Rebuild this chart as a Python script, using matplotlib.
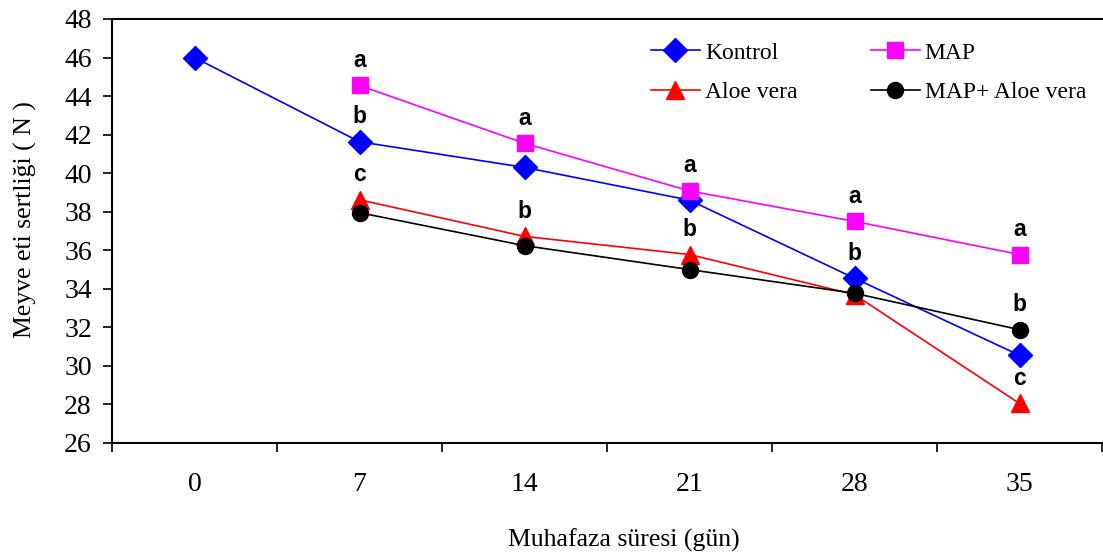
import matplotlib
matplotlib.use("Agg")
import matplotlib.pyplot as plt
import numpy as np

days = ["0", "7", "14", "21", "28", "35"]
kontrol = [46.0, 41.63, 40.3, 38.6, 34.55, 30.55]
map_ = [np.nan, 44.55, 41.55, 39.08, 37.5, 35.78]
aloe = [np.nan, 38.62, 36.72, 35.78, 33.7, 28.05]
map_aloe = [np.nan, 37.95, 36.24, 35.0, 33.77, 31.88]

kontrol_letters = ["", "b", "", "", "b", ""]
map_letters = ["", "a", "a", "a", "a", "a"]
aloe_letters = ["", "c", "b", "b", "", "c"]
map_aloe_letters = ["", "", "", "", "", "b"]

yticks = list(range(26, 49, 2))

W, H = 1103, 556
fig = plt.figure(figsize=(W / 100, H / 100), dpi=100)
ax = fig.add_axes([112 / W, 1 - 443 / H, (1102 - 112) / W, (443 - 19) / H])

serif = "Liberation Serif"
x = np.arange(len(days))

series = [
    ("Kontrol", kontrol, kontrol_letters, "#0000FF", "D", 12.0),
    ("MAP", map_, map_letters, "#FF00FF", "s", 11.5),
    ("Aloe vera", aloe, aloe_letters, "#FF0000", "^", 13.5),
    ("MAP+ Aloe vera", map_aloe, map_aloe_letters, "#000000", "o", 11.5),
]
handles = {}
for name, vals, letters, col, mk, ms in series:
    h, = ax.plot(x, vals, color=col, lw=1.2, marker=mk, markersize=ms,
                 markerfacecolor=col, markeredgecolor=col, label=name)
    handles[name] = h
    for xi, v, lt in zip(x, vals, letters):
        if lt and not np.isnan(v):
            ax.annotate(lt, (xi, v), xytext=(0, 18), textcoords="offset points",
                        ha="center", va="center", fontsize=16.5, fontweight="bold",
                        family="Liberation Sans")

ax.set_xlim(-0.5, len(days) - 0.5)
ax.set_ylim(26, 48)
ax.set_yticks(yticks)
ax.set_yticklabels([str(t) for t in yticks], family=serif, fontsize=20)
ax.set_xticks(np.arange(-0.5, len(days), 1.0))
ax.set_xticklabels([])
ax.set_xticks(x, minor=True)
ax.set_xticklabels(days, minor=True, family=serif, fontsize=20)
ax.tick_params(axis="x", which="minor", length=0, pad=21)
ax.tick_params(axis="x", which="major", direction="out", length=6.5, width=1.2)
ax.tick_params(axis="y", direction="out", length=6.5, width=1.2, pad=8)
for s in ["left", "bottom", "top"]:
    ax.spines[s].set_linewidth(1.5)
ax.spines["right"].set_visible(False)

fig.text(25 / W, 1 - 220 / H, "Meyve eti sertliği ( N )", rotation=90,
         ha="center", va="center", family=serif, fontsize=18.5)
fig.text(624 / W, 1 - 540 / H, "Muhafaza süresi (gün)", ha="center",
         va="center", family=serif, fontsize=18.5)

order = ["Kontrol", "Aloe vera", "MAP", "MAP+ Aloe vera"]
leg = fig.legend([handles[n] for n in order], order, ncol=2, frameon=False,
                 loc="upper left", bbox_to_anchor=(651 / W, 1 - 42 / H),
                 borderpad=0, borderaxespad=0, handlelength=2.07,
                 handletextpad=0.22, columnspacing=3.1, labelspacing=0.78,
                 prop={"family": serif, "size": 17})

fig.savefig("out.png", dpi=100)
